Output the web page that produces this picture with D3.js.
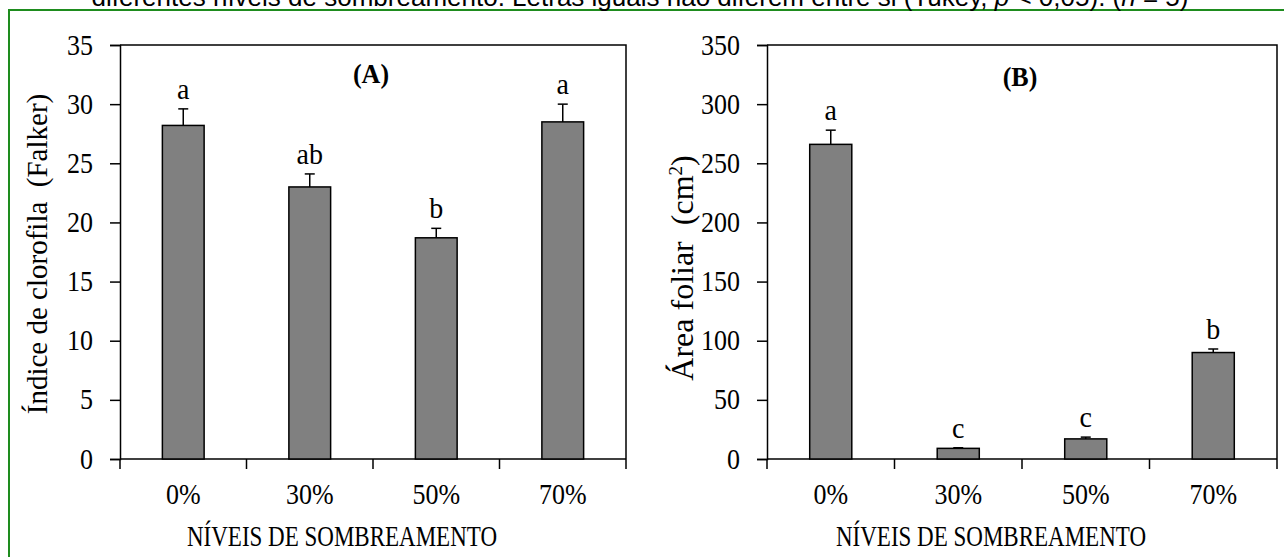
<!DOCTYPE html>
<html>
<head>
<meta charset="utf-8">
<script src="https://cdn.jsdelivr.net/npm/d3@7"></script>
<style>
  body { margin: 0; background: #fff; overflow: hidden; }
  text { font-family: "Liberation Serif", "Times New Roman", serif; fill: #000; }
</style>
</head>
<body>
<script>
// shading levels (x categories)
const levels = ['0%', '30%', '50%', '70%'];

// panel A: chlorophyll index (Falker)
const chloroMean = [28.2, 23.0, 18.7, 28.5];
const chloroErr = [1.4, 1.1, 0.8, 1.5];
const chloroLetters = ['a', 'ab', 'b', 'a'];
const chloroTicks = [0, 5, 10, 15, 20, 25, 30, 35];

// panel B: leaf area (cm2)
const areaMean = [266, 9, 17, 90];
const areaErr = [12, 0.5, 1.5, 3];
const areaLetters = ['a', 'c', 'c', 'b'];
const areaTicks = [0, 50, 100, 150, 200, 250, 300, 350];

const width = 1284, height = 557;
const stretch = 1.17; // the source figure's text is a bit taller than wide

const svg = d3.select('body').append('svg')
  .attr('width', width)
  .attr('height', height);

// green frame around the figure (runs off the right and bottom edges)
svg.append('rect')
  .attr('x', 9).attr('y', 10)
  .attr('width', width + 20).attr('height', height + 20)
  .attr('fill', 'none')
  .attr('stroke', '#1e8c1e')
  .attr('stroke-width', 2);

// caption, only its lower part visible at the top
const cap = svg.append('text')
  .attr('x', 640).attr('y', 6)
  .attr('text-anchor', 'middle')
  .style('font-family', '"Liberation Sans", Arial, sans-serif')
  .style('font-size', '26px');
cap.append('tspan').text('diferentes níveis de sombreamento. Letras iguais não diferem entre si (Tukey, ');
cap.append('tspan').style('font-style', 'italic').text('p');
cap.append('tspan').text(' < 0,05). (');
cap.append('tspan').style('font-style', 'italic').text('n');
cap.append('tspan').text(' = 5)');

function panel(opts) {
  const { x0, x1, y0, y1, max, ticks, mean, err, letters, tag, tagY, title, titleX, titleY, titleSize } = opts;
  const g = svg.append('g');

  const x = d3.scaleBand().domain(levels).range([x0, x1]);
  const y = d3.scaleLinear().domain([0, max]).range([y1, y0]);
  const barW = x.bandwidth() * 0.33;
  const cx = d => x(d) + x.bandwidth() / 2;

  // plot frame (top and right)
  g.append('path')
    .attr('d', `M${x0},${y0}H${x1}V${y1}`)
    .attr('fill', 'none').attr('stroke', '#000').attr('stroke-width', 1.5);

  // y axis
  const yAxis = g.append('g')
    .attr('transform', `translate(${x0},0)`)
    .call(d3.axisLeft(y).tickValues(ticks).tickSize(10).tickPadding(17).tickFormat(d3.format('d')));
  yAxis.select('.domain').attr('stroke-width', 1.5);
  yAxis.selectAll('.tick line').attr('stroke-width', 1.5);
  yAxis.selectAll('text')
    .attr('transform', `scale(1,${stretch})`)
    .attr('dy', '0.30em')
    .style('font-size', '26px').style('font-family', '"Liberation Serif", serif');

  // x axis: ticks at category boundaries
  g.append('line')
    .attr('x1', x0).attr('x2', x1).attr('y1', y1).attr('y2', y1)
    .attr('stroke', '#000').attr('stroke-width', 1.5);
  const bounds = levels.map(d => x(d)).concat([x1]);
  g.selectAll('.xtick').data(bounds).join('line')
    .attr('x1', d => d).attr('x2', d => d)
    .attr('y1', y1).attr('y2', y1 + 10)
    .attr('stroke', '#000').attr('stroke-width', 1.5);
  g.selectAll('.xlab').data(levels).join('text')
    .attr('transform', d => `translate(${cx(d)},${y1 + 45}) scale(1,${stretch})`)
    .attr('text-anchor', 'middle')
    .style('font-size', '26px')
    .text(d => d);

  // error bars (upper only)
  const eb = g.selectAll('.eb').data(levels).join('g');
  eb.append('line')
    .attr('x1', cx).attr('x2', cx)
    .attr('y1', (d, i) => y(mean[i])).attr('y2', (d, i) => y(mean[i] + err[i]))
    .attr('stroke', '#000').attr('stroke-width', 1.5);
  eb.append('line')
    .attr('x1', d => cx(d) - 5).attr('x2', d => cx(d) + 5)
    .attr('y1', (d, i) => y(mean[i] + err[i])).attr('y2', (d, i) => y(mean[i] + err[i]))
    .attr('stroke', '#000').attr('stroke-width', 1.5);

  // bars
  g.selectAll('.bar').data(levels).join('rect')
    .attr('x', d => x(d) + (x.bandwidth() - barW) / 2)
    .attr('y', (d, i) => y(mean[i]))
    .attr('width', barW)
    .attr('height', (d, i) => y1 - y(mean[i]))
    .attr('fill', '#808080')
    .attr('stroke', '#000').attr('stroke-width', 1.5);

  // Tukey letters
  g.selectAll('.let').data(levels).join('text')
    .attr('transform', (d, i) => `translate(${cx(d)},${y(mean[i] + err[i]) - 10}) scale(1,1.06)`)
    .attr('text-anchor', 'middle')
    .style('font-size', '28px')
    .text((d, i) => letters[i]);

  // panel tag
  g.append('text')
    .attr('transform', `translate(${(x0 + x1) / 2 - 2},${tagY}) scale(1,1.08)`)
    .attr('text-anchor', 'middle')
    .style('font-size', '26px').style('font-weight', 'bold')
    .text(tag);

  // x title
  g.append('text')
    .attr('x', (x0 + x1) / 2 - 31).attr('y', y1 + 87)
    .attr('text-anchor', 'middle')
    .attr('textLength', 310)
    .attr('lengthAdjust', 'spacingAndGlyphs')
    .style('font-size', '30px')
    .text('NÍVEIS DE SOMBREAMENTO');

  // y title
  const yt = g.append('text')
    .attr('transform', `translate(${titleX},${titleY}) rotate(-90)`)
    .attr('text-anchor', 'middle')
    .style('font-size', titleSize + 'px')
    .style('white-space', 'pre');
  title(yt);
}

panel({
  x0: 120, x1: 626, y0: 45, y1: 459, max: 35, ticks: chloroTicks,
  mean: chloroMean, err: chloroErr, letters: chloroLetters, tag: '(A)', tagY: 83,
  titleX: 47, titleY: 254, titleSize: 29,
  title: t => t.text('Índice de clorofila  (Falker)')
});

panel({
  x0: 767, x1: 1277, y0: 45, y1: 459, max: 350, ticks: areaTicks,
  mean: areaMean, err: areaErr, letters: areaLetters, tag: '(B)', tagY: 86,
  titleX: 693, titleY: 268, titleSize: 32,
  title: t => {
    t.append('tspan').text('Área foliar  (cm');
    t.append('tspan').attr('dy', -11).style('font-size', '19px').text('2');
    t.append('tspan').attr('dy', 11).text(')');
  }
});
</script>
</body>
</html>
